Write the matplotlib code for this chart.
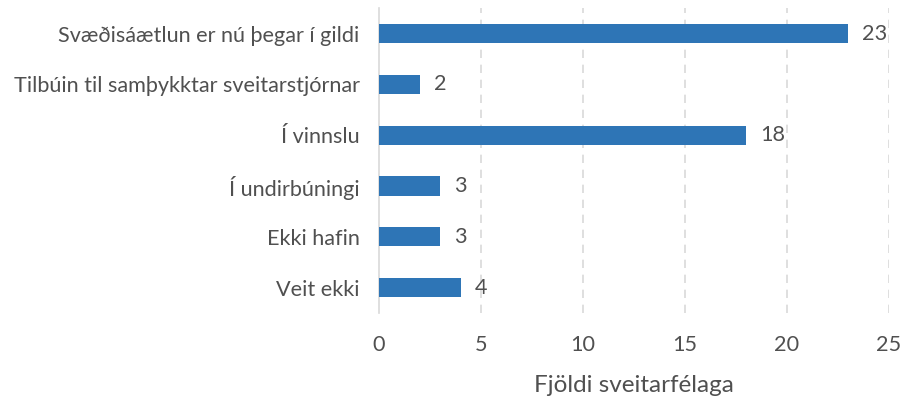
import matplotlib.pyplot as plt
import numpy as np

plt.rcParams['font.family'] = ['Lato', 'DejaVu Sans']

# gögn
flokkar = ['Svæðisáætlun er nú þegar í gildi',
           'Tilbúin til samþykktar sveitarstjórnar',
           'Í vinnslu',
           'Í undirbúningi',
           'Ekki hafin',
           'Veit ekki']
fjoldi = [23, 2, 18, 3, 3, 4]
x_ticks = [0, 5, 10, 15, 20, 25]

textalitur = '#505050'
grar = '#D9D9D9'

fig = plt.figure(figsize=(9.02, 4.09), dpi=100)
ax = fig.add_axes([0.4202, 0.2347, 0.5654, 0.7453])

y = np.arange(len(flokkar))
bars = ax.barh(y, fjoldi, height=0.38, color='#2E75B6', zorder=3)

for b, v in zip(bars, fjoldi):
    ax.text(b.get_width() + 0.7, b.get_y() + b.get_height() / 2, str(v),
            va='center', ha='left', fontsize=15.6, color=textalitur)

ax.set_yticks(y)
ax.set_yticklabels(flokkar, fontsize=15.6, color=textalitur)
ax.set_ylim(len(flokkar) - 0.5, -0.5)
ax.set_xlim(0, 25)
ax.set_xticks(x_ticks)
ax.set_xticklabels([str(t) for t in x_ticks], fontsize=15.6, color=textalitur)
ax.tick_params(length=0)
ax.tick_params(axis='y', pad=14)
ax.tick_params(axis='x', pad=16)

ax.grid(axis='x', color=grar, linestyle=(0, (5, 4)), linewidth=1.2, zorder=0)
ax.xaxis.get_gridlines()[0].set_visible(False)

for s in ['top', 'right', 'bottom']:
    ax.spines[s].set_visible(False)
ax.spines['left'].set_color(grar)
ax.spines['left'].set_linewidth(1.2)

ax.set_xlabel('Fjöldi sveitarfélaga', fontsize=17.5, color=textalitur, labelpad=14)

fig.savefig('out.png', dpi=100)
